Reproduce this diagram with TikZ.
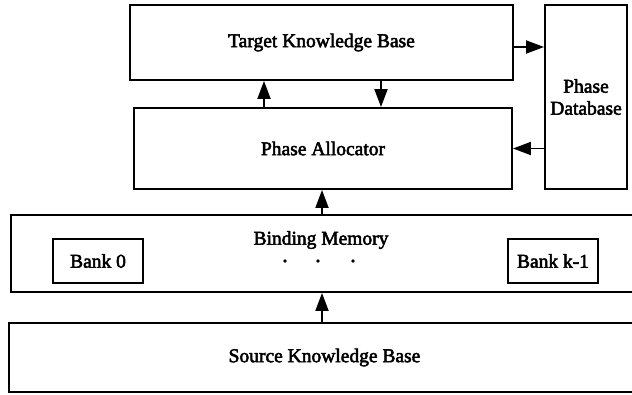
\documentclass[tikz,border=0pt]{standalone}
\usepackage{fontspec}
\setmainfont{Liberation Serif}
\newfontfamily\heavyserif{Liberation Serif}[FakeBold=2.6]
\usetikzlibrary{arrows.meta}
\begin{document}
\begin{tikzpicture}[x=1pt,y=-1pt,
  blk/.style={draw, line width=1.9pt, inner sep=0pt, font=\heavyserif\fontsize{19.5}{22}\selectfont, align=center},
  txt/.style={inner sep=0pt, font=\heavyserif\fontsize{19.5}{22}\selectfont},
  conn/.style={line width=1.9pt, -{Triangle[length=18pt,width=13pt]}},
  dot/.style={circle, fill, inner sep=0pt, minimum size=3.8pt}]
\useasboundingbox (0,0) rectangle (632,394);
\clip (0,0) rectangle (632,394);

% upper stage
\node[blk, minimum width=383pt, minimum height=75pt] (tkb) at (321.5,42.5) {Target Knowledge Base};
\node[blk, minimum width=378pt, minimum height=81pt] (pa) at (323,148.5) {\raisebox{-4pt}{Phase Allocator}};
\node[blk, minimum width=82pt, minimum height=184pt] (pd) at (586,97) {Phase\\Database};

% binding memory with its banks
\node[blk, minimum width=629pt, minimum height=77pt] (bm) at (325.5,253.5) {};
\node[txt] (bmlabel) at (321,240) {Binding Memory};
\node[blk, minimum width=90pt, minimum height=44pt] (b0) at (98,261) {Bank 0};
\node[blk, minimum width=90pt, minimum height=44pt] (bk) at (553,261) {Bank k-1};
\node[dot] (d1) at (285,261) {};
\node[dot] (d2) at (318,261) {};
\node[dot] (d3) at (353,261) {};

% source
\node[blk, minimum width=631pt, minimum height=69pt] (skb) at (324.5,357.5) {Source Knowledge Base};

% connectors
\coordinate (xu) at (264,0);
\coordinate (xd) at (381,0);
\coordinate (xm) at (322,0);
\draw[conn] ([yshift=-4.5pt]tkb.east) -- ([yshift=-4.5pt]tkb.east -| pd.west);
\draw[conn] (pd.west |- pa.east) -- (pa.east);
\draw[conn] (pa.north -| xu) -- (tkb.south -| xu);
\draw[conn] (tkb.south -| xd) -- (pa.north -| xd);
\draw[conn] (bm.north -| xm) -- (pa.south -| xm);
\draw[conn] (skb.north -| xm) -- (bm.south -| xm);
\end{tikzpicture}
\end{document}
